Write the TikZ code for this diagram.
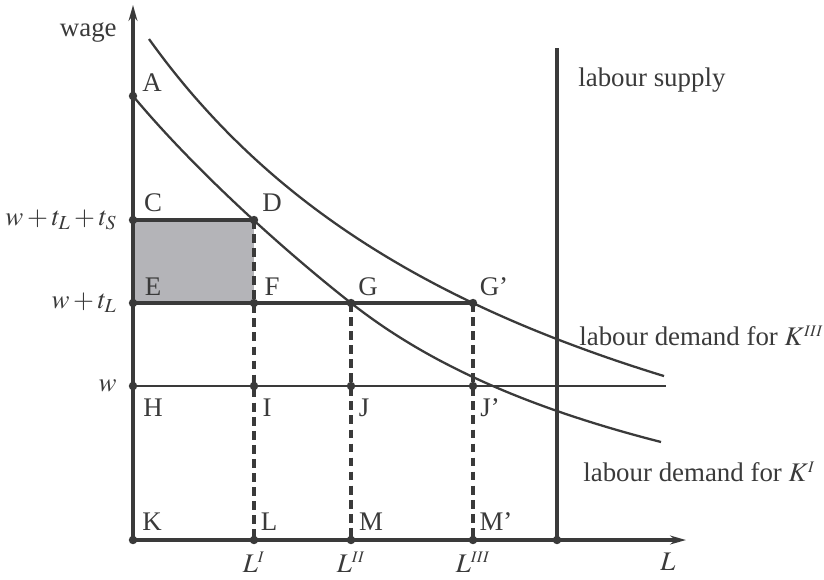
\documentclass[tikz,border=0pt]{standalone}
\usepackage{mathptmx}
\usepackage{fontspec}
\setmainfont{Liberation Serif}
\usetikzlibrary{arrows.meta}
\definecolor{ink}{HTML}{3A3A3A}
\definecolor{boxgray}{HTML}{B4B4B8}
\tikzset{
  axis/.style={ink,line width=1.9pt,-{Stealth[length=9pt,width=5pt]}},
  level/.style={ink,line width=1.8pt},
  curve/.style={ink,line width=1.3pt},
  guide/.style={ink,line width=1.8pt,dash pattern=on 5pt off 3pt},
  lbl/.style={text=ink,inner sep=0pt},
  dot/.style={ink},
}
\begin{document}
\begin{tikzpicture}[x=0.02cm,y=-0.02cm,font=\fontsize{15.3}{18}\selectfont]
        \useasboundingbox (0,0) rectangle (824,579);
        % points on the grid
        \coordinate (K) at (133,540);
        \coordinate (Ytop) at (133,5);
        \coordinate (Xend) at (686,540);
        \coordinate (A) at (133,96);
        \coordinate (C) at (133,220);
        \coordinate (D) at (254,220);
        \coordinate (E) at (133,303);
        \coordinate (F) at (254,303);
        \coordinate (G) at (351,303);
        \coordinate (Gp) at (473,303);
        \coordinate (H) at (133,386);
        \coordinate (I) at (254,386);
        \coordinate (J) at (351,386);
        \coordinate (Jp) at (473,386);
        \coordinate (Wend) at (666,386);
        \coordinate (L) at (254,540);
        \coordinate (M) at (351,540);
        \coordinate (Mp) at (473,540);
        \coordinate (Stop) at (557,48);
        \coordinate (Sbot) at (557,540);

        \fill[boxgray] (C) rectangle (F);

        \draw[axis] (K) -- (Ytop);
        \draw[axis] (K) -- (Xend);
        \draw[ink,line width=1.9pt] (Stop) -- (Sbot);
        \draw[level,line width=1.5pt] (H) -- (Wend);
        \draw[level] (E) -- (Gp);
        \draw[level] (C) -- (D);
        \draw[guide] (D) -- (L);
        \draw[guide] (G) -- (M);
        \draw[guide] (Gp) -- (Mp);

        % labour demand curves
        \draw[curve] (A) .. controls (193,168) and (281,248) .. (G)
                plot[domain=351:661,samples=40,smooth] (\x,{625.2-131.66/((\x+57.6)/1000)});
        \draw[curve] plot[domain=149:664,samples=60,smooth] (\x,{673.7-288.707/((\x+305.9)/1000)});

        \foreach \p in {A,C,D,E,F,G,Gp,H,I,J,Jp,K,L,M,Mp,Sbot}
                \fill[dot] (\p) circle (2.4pt);

        \node[lbl,anchor=east] (wage) at (117,32) {wage};
        \node[lbl,anchor=east] (wts) at (117,220) {$w+t_L+t_S$};
        \node[lbl,anchor=east] (wt) at (117,303) {$w+t_L$};
        \node[lbl,anchor=east] (w) at (117,386) {$w$};

        \node[lbl] (lA) at (152,83) {A};
        \node[lbl] (lC) at (153,203) {C};
        \node[lbl] (lD) at (272,203) {D};
        \node[lbl] (lE) at (153,287) {E};
        \node[lbl] (lF) at (272,287) {F};
        \node[lbl] (lG) at (368,287) {G};
        \node[lbl] (lGp) at (494,287) {G’};
        \node[lbl] (lH) at (153,408) {H};
        \node[lbl] (lI) at (267,408) {I};
        \node[lbl] (lJ) at (364,408) {J};
        \node[lbl] (lJp) at (490,408) {J’};
        \node[lbl] (lK) at (152,522) {K};
        \node[lbl] (lL) at (269,522) {L};
        \node[lbl] (lM) at (371,522) {M};
        \node[lbl] (lMp) at (496,522) {M’};

        \node[lbl] (LI) at (254,562) {$L^{\scriptscriptstyle I}$};
        \node[lbl] (LII) at (351,562) {$L^{\scriptscriptstyle II}$};
        \node[lbl] (LIII) at (473,562) {$L^{\scriptscriptstyle III}$};
        \node[lbl] (Lx) at (668,562) {$L$};

        \node[lbl,anchor=west] (supply) at (578,80) {labour supply};
        \node[lbl,anchor=west] (dIII) at (579,336) {labour demand for $K^{\scriptscriptstyle III}$};
        \node[lbl,anchor=west] (dI) at (583,472) {labour demand for $K^{\scriptscriptstyle I}$};
\end{tikzpicture}
\end{document}
